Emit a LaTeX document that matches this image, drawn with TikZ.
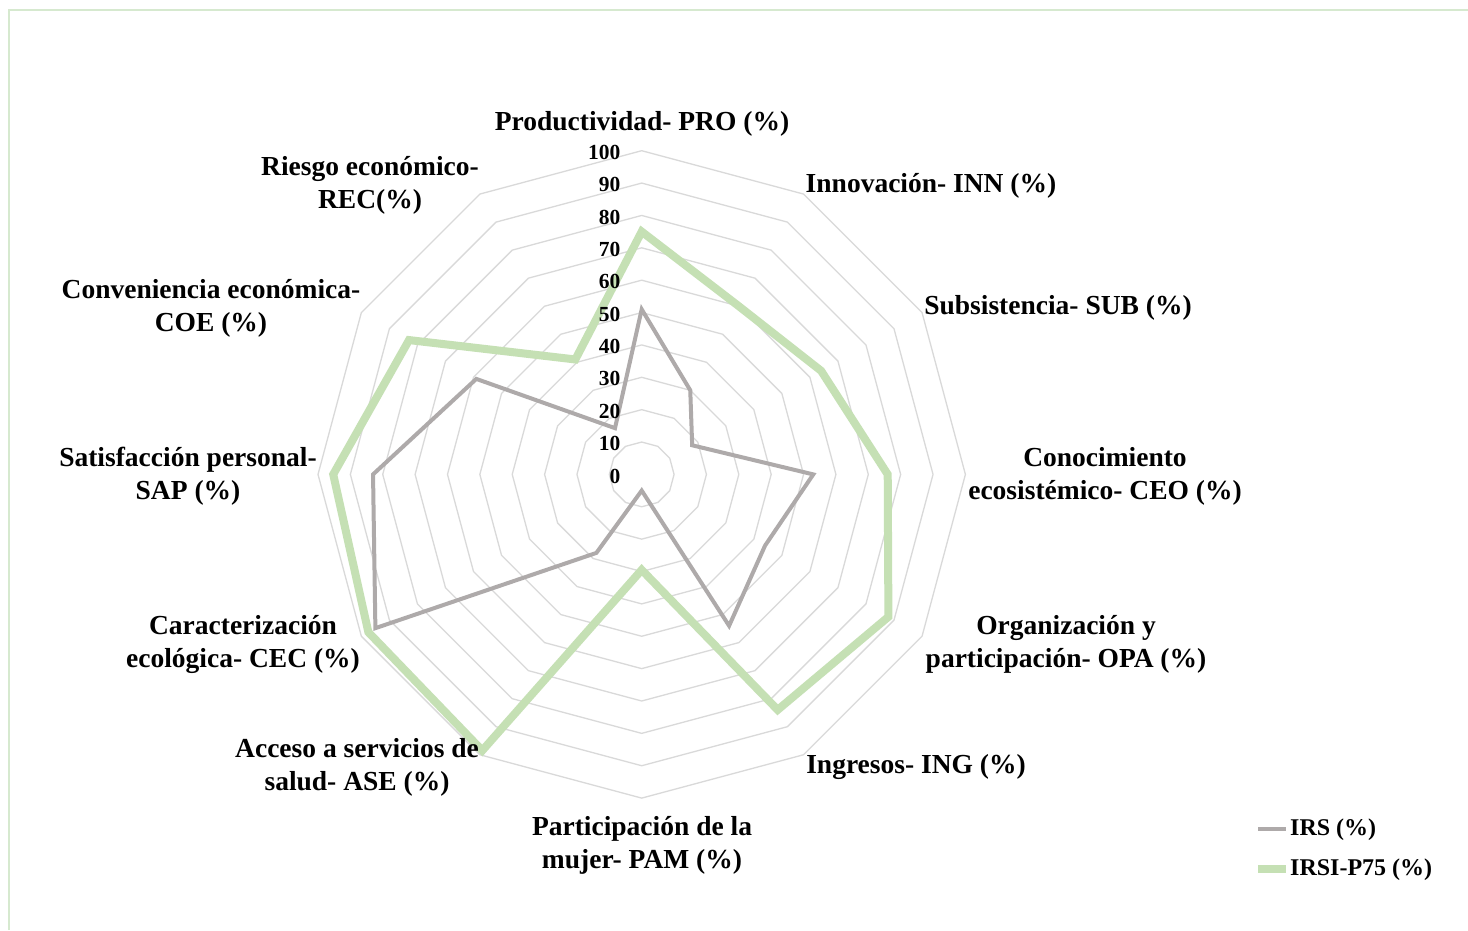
\documentclass[tikz,border=0pt]{standalone}
\usepackage{fontspec}
\setmainfont{Liberation Serif}
\begin{document}
\definecolor{gridcol}{HTML}{D9D9D9}
\definecolor{irscol}{HTML}{AEAAAA}
\definecolor{p75col}{HTML}{C5E0B4}
\definecolor{framecol}{HTML}{D6E9CF}
\begin{tikzpicture}[x=1bp,y=-1bp,
  gridline/.style={draw=gridcol,line width=1.3bp},
  irsline/.style={draw=irscol,line width=4bp,line join=miter},
  p75line/.style={draw=p75col,line width=8bp,line join=miter},
  axislab/.style={font=\fontsize{27.5bp}{33bp}\selectfont\bfseries,align=center,inner sep=0pt},
  numlab/.style={font=\fontsize{21.5bp}{24bp}\selectfont\bfseries,anchor=east,inner sep=0pt},
  leglab/.style={font=\fontsize{24bp}{28bp}\selectfont\bfseries,anchor=west,inner sep=0pt}]
\useasboundingbox (0,0) rectangle (1468,930);
\fill[white] (0,0) rectangle (1468,930);
% outer frame (top and left edges)
\draw[framecol,line width=1.5bp] (9,930) -- (9,10) -- (1468,10);

\def\R{3.237}
\begin{scope}[shift={(641.7,474.4)}]
  % concentric 12-sided grid rings, 10 to 100
  \foreach \k in {1,...,10}{
    \draw[gridline] (-90:{\k*10*\R}) \foreach \i in {1,...,11}{ -- ({-90+30*\i}:{\k*10*\R}) } -- cycle;
  }
  % series vertices, clockwise from the top axis
  \foreach \v [count=\i from 0] in {51,30,18,53,44,54,5,28,95,83,59,16.5}
    \coordinate (irs\i) at ({-90+30*\i}:{\v*\R});
  \foreach \v [count=\i from 0] in {75,60,64,76,88,84,29.5,98.5,97.5,95.3,83,41}
    \coordinate (pst\i) at ({-90+30*\i}:{\v*\R});
  \draw[irsline] (irs0) -- (irs1) -- (irs2) -- (irs3) -- (irs4) -- (irs5) -- (irs6)
    -- (irs7) -- (irs8) -- (irs9) -- (irs10) -- (irs11) -- cycle;
  \draw[p75line] (pst0) -- (pst1) -- (pst2) -- (pst3) -- (pst4) -- (pst5) -- (pst6)
    -- (pst7) -- (pst8) -- (pst9) -- (pst10) -- (pst11) -- cycle;
\end{scope}

% radial scale
\foreach \k in {0,...,10}
  \node[numlab] (n\k) at (620.5,{476-\k*10*\R}) {\the\numexpr\k*10\relax};

% axis labels
\node[axislab] (pro) at (642,124) {Productividad- PRO (\%)};
\node[axislab] (inn) at (931,186) {Innovación- INN (\%)};
\node[axislab] (sub) at (1058,308) {Subsistencia- SUB (\%)};
\node[axislab] (ceo) at (1105,476) {Conocimiento\\ecosistémico- CEO (\%)};
\node[axislab] (opa) at (1066,644) {Organización y\\participación- OPA (\%)};
\node[axislab] (ing) at (916,767) {Ingresos- ING (\%)};
\node[axislab] (pam) at (642,845) {Participación de la\\mujer- PAM (\%)};
\node[axislab] (ase) at (357,767) {Acceso a servicios de\\salud- ASE (\%)};
\node[axislab] (cec) at (243,644) {Caracterización\\ecológica- CEC (\%)};
\node[axislab] (sap) at (188,476) {Satisfacción personal-\\SAP (\%)};
\node[axislab] (coe) at (211,308) {Conveniencia económica-\\COE (\%)};
\node[axislab] (rec) at (370,185) {Riesgo económico-\\REC(\%)};

% legend
\coordinate (lg1a) at (1258,828.5);
\coordinate (lg1b) at (1286,828.5);
\coordinate (lg2a) at (1258,868.5);
\coordinate (lg2b) at (1286,868.5);
\draw[draw=irscol,line width=4bp] (lg1a) -- (lg1b);
\draw[draw=p75col,line width=8bp] (lg2a) -- (lg2b);
\node[leglab] (l1) at (1290,830) {IRS (\%)};
\node[leglab] (l2) at (1290,870) {IRSI-P75 (\%)};
\end{tikzpicture}
\end{document}
